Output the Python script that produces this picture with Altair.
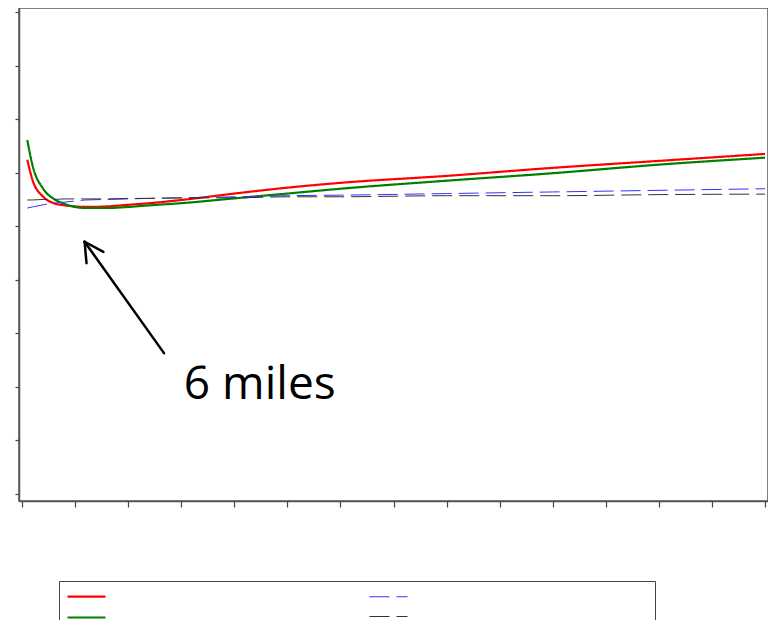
import altair as alt
import pandas as pd

# ---- data ----
miles = [0.5, 1, 2, 3, 4, 5, 6, 8, 10, 12, 15, 20, 25, 30, 40, 50, 60, 70]
red_vals = [6.24, 5.86, 5.55, 5.43, 5.39, 5.37, 5.36, 5.37, 5.40, 5.43, 5.49, 5.61, 5.72, 5.81, 5.94, 6.09, 6.22, 6.35]
green_vals = [6.61, 6.13, 5.70, 5.51, 5.42, 5.36, 5.34, 5.34, 5.36, 5.39, 5.43, 5.52, 5.61, 5.70, 5.85, 5.99, 6.15, 6.28]
blue_vals = [5.34, 5.36, 5.40, 5.43, 5.45, 5.47, 5.49, 5.50, 5.51, 5.52, 5.53, 5.55, 5.57, 5.58, 5.61, 5.64, 5.67, 5.70]
black_vals = [5.49, 5.49, 5.50, 5.50, 5.51, 5.51, 5.51, 5.51, 5.52, 5.52, 5.53, 5.53, 5.55, 5.55, 5.57, 5.57, 5.59, 5.60]

# legend order (column-wise, 2 columns): red, green | blue, black
series_order = ["Series A", "Series B", "Series C", "Series D"]
series_colors = ["#ff0000", "#008000", "#3333ff", "#333333"]
series_dash = [[1, 0], [1, 0], [20, 7], [20, 7]]
series_width = [2.2, 2.2, 1, 1]
series_values = [red_vals, green_vals, blue_vals, black_vals]

x_ticks = [0, 5, 10, 15, 20, 25, 30, 35, 40, 45, 50, 55, 60, 65, 70]
y_ticks = [0, 1, 2, 3, 4, 5, 6, 7, 8, 9]

# annotation: arrow shaft and head (data units), label
arrow_x = [13.38, 5.9, 5.9]
arrow_y = [2.63, 4.71, 4.71]
arrow_x2 = [5.9, 6.08, 7.67]
arrow_y2 = [4.71, 4.31, 4.52]
label_text = ["6 miles"]
label_x = [15.25]
label_y = [1.77]

# ---- tables ----
rows = []
for name, vals in zip(series_order, series_values):
    for m, v in zip(miles, vals):
        rows.append({"miles": m, "value": v, "series": name})
df = pd.DataFrame(rows)

arrow_df = pd.DataFrame({"x": arrow_x, "y": arrow_y, "x2": arrow_x2, "y2": arrow_y2})
label_df = pd.DataFrame({"text": label_text, "x": label_x, "y": label_y})

x_scale = alt.Scale(domain=[-0.28, 70.28], nice=False, zero=False)
y_scale = alt.Scale(domain=[-0.131, 9.075], nice=False, zero=False)

x_axis = alt.Axis(values=x_ticks, labels=False, title=None, grid=False, tickSize=6,
                  tickColor="#444", domainColor="#555", domainWidth=1.5, tickWidth=1.2)
y_axis = alt.Axis(values=y_ticks, labels=False, title=None, grid=False, tickSize=4,
                  tickColor="#444", domainColor="#555", domainWidth=1.5, tickWidth=1.2)

# legend text is not shown in the picture; a white spacer label keeps the box width
blank_label = "'" + "0" * 68 + "'"

lines = alt.Chart(df).mark_line(interpolate="monotone").encode(
    x=alt.X("miles:Q", scale=x_scale, axis=x_axis),
    y=alt.Y("value:Q", scale=y_scale, axis=y_axis),
    color=alt.Color("series:N", sort=series_order,
                    scale=alt.Scale(domain=series_order, range=series_colors),
                    legend=alt.Legend(
                        title=None, orient="none", legendX=40, legendY=573,
                        columns=2, columnPadding=22, rowPadding=9,
                        symbolType="M-3.17,0L3.17,0", symbolSize=144, symbolOffset=12,
                        labelExpr=blank_label, labelOffset=24, labelFontSize=6,
                        labelFont="Liberation Sans", labelColor="white", labelLimit=600,
                        fillColor="white", strokeColor="#444", padding=8,
                    )),
    strokeDash=alt.StrokeDash("series:N", sort=series_order,
                              scale=alt.Scale(type="ordinal", domain=series_order, range=series_dash)),
    strokeWidth=alt.StrokeWidth("series:N", sort=series_order,
                                scale=alt.Scale(type="ordinal", domain=series_order, range=series_width)),
    order=alt.Order("miles:Q"),
)

arrow = alt.Chart(arrow_df).mark_rule(color="black", strokeWidth=2.5, strokeCap="round").encode(
    x=alt.X("x:Q", scale=x_scale), y=alt.Y("y:Q", scale=y_scale),
    x2="x2:Q", y2="y2:Q",
)

label = alt.Chart(label_df).mark_text(
    align="left", baseline="alphabetic", font="Open Sans", fontSize=46, color="black"
).encode(
    x=alt.X("x:Q", scale=x_scale), y=alt.Y("y:Q", scale=y_scale), text="text:N"
)

chart = alt.layer(lines, arrow, label).properties(
    width=749, height=493,
    autosize=alt.AutoSizeParams(type="none"),
    padding={"left": 11, "top": 0, "right": 0, "bottom": 119},
).configure_view(
    stroke="#555", strokeWidth=1.5
)

chart.save("out.html", embed_options={"renderer": "svg", "actions": False})
